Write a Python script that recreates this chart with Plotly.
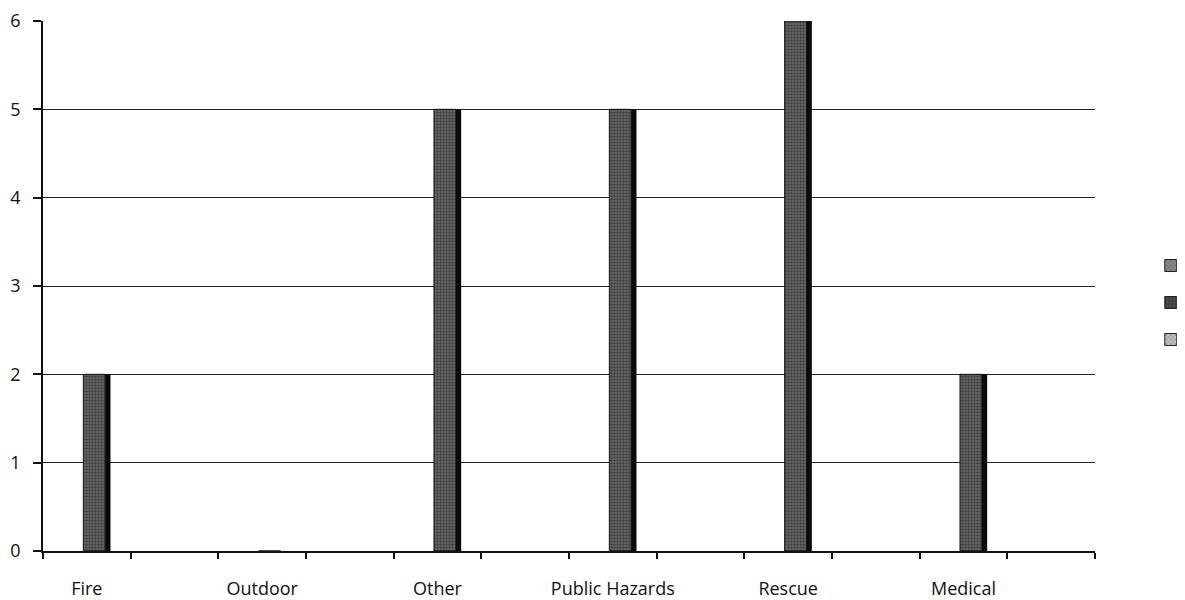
import plotly.graph_objects as go

# Data (12 category slots, every other slot labelled)
categories = ["Fire", "Outdoor", "Other", "Public Hazards", "Rescue", "Medical"]
series1 = [None, None, None, None, None, None]
series2 = [2, 0, 5, 5, 6, 2]
series3 = [None, None, None, None, None, None]
y_ticks = [0, 1, 2, 3, 4, 5, 6]

# labelled categories sit in every other slot
xpos = [2 * i for i in range(len(categories))]

FONT = "Open Sans, Liberation Sans, sans-serif"

fig = go.Figure()

# front faces of the columns
fig.add_trace(go.Bar(
    x=xpos, y=series2, name="", showlegend=False,
    offset=-0.04, width=0.25,
    marker=dict(color="#555555", line=dict(color="#111", width=1),
                pattern=dict(shape=".", fgcolor="#0d0d0d", bgcolor="#6e6e6e",
                             size=3, solidity=0.5)),
    hoverinfo="skip",
))
# dark side faces of the columns
fig.add_trace(go.Bar(
    x=xpos, y=series2, name="", showlegend=False,
    offset=0.21, width=0.06,
    marker=dict(color="#0a0a0a", line=dict(width=0)),
    hoverinfo="skip",
))

# legend entries (three unlabeled series)
legend_styles = [
    ("s1", series1, "#8c8c8c", "x"),
    ("s2", series2, "#4a4a4a", "."),
    ("s3", series3, "#c4c4c4", "x"),
]
for grp, vals, col, pat in legend_styles:
    fig.add_trace(go.Bar(
        x=xpos, y=[None] * len(vals), name=" ", legendgroup=grp,
        marker=dict(color=col, line=dict(color="#222", width=1),
                    pattern=dict(shape=pat, fgcolor="#222", size=4, solidity=0.3)),
        showlegend=True,
    ))

fig.update_layout(
    width=1177, height=592,
    paper_bgcolor="white", plot_bgcolor="white",
    margin=dict(l=35, r=90, t=13, b=49, autoexpand=False),
    barmode="overlay",
    showlegend=True,
    legend=dict(x=1.053, y=0.566, xanchor="left", yanchor="top",
                font=dict(family=FONT, size=12, color="black"),
                tracegroupgap=18, itemwidth=30,
                bgcolor="rgba(0,0,0,0)"),
    font=dict(family=FONT, size=18, color="black"),
)

fig.update_xaxes(
    range=[-0.5, 11.5],
    tickvals=xpos, ticktext=categories,
    ticks="", showgrid=False, zeroline=False,
    showline=True, linecolor="#111", linewidth=1.5,
    tickfont=dict(family=FONT, size=18, color="#111"),
    ticklabelstandoff=21,
    ticklabeloverflow="allow",
    automargin=False,
    minor=dict(tickmode="linear", tick0=0.5, dtick=1, ticks="outside",
               ticklen=6, tickcolor="#111", tickwidth=1.5, showgrid=False),
)
fig.update_yaxes(
    range=[0, 6], tickvals=y_ticks,
    ticks="outside", ticklen=8, tickcolor="#111", tickwidth=1.5,
    showline=True, linecolor="#111", linewidth=1.5,
    showgrid=True, gridcolor="#222", gridwidth=1,
    zeroline=False,
    automargin=False,
    tickfont=dict(family=FONT, size=18, color="#111"),
    ticklabelstandoff=9,
    ticklabeloverflow="allow",
)

fig.write_html("out.html")
